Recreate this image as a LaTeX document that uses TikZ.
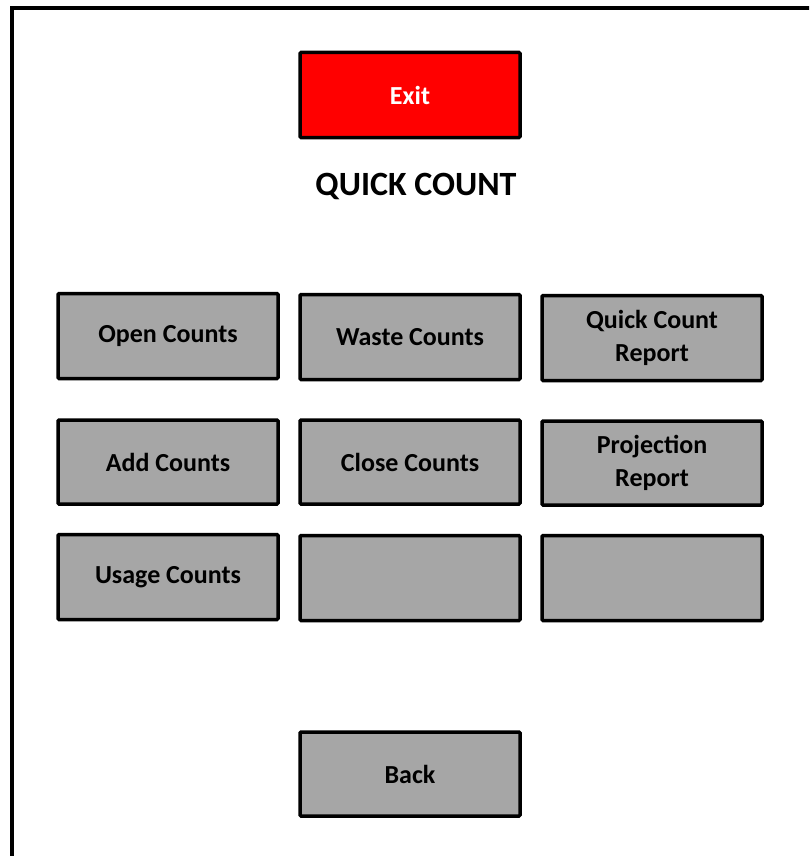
\documentclass[tikz,border=0pt]{standalone}
\usepackage{fontspec}
\setmainfont{Carlito}
\definecolor{btngray}{HTML}{A6A6A6}
\definecolor{btnred}{HTML}{FF0000}
\tikzset{
  btn/.style={draw=black, line width=3.5pt, fill=btngray, rounded corners=1pt,
    font=\bfseries\fontsize{26}{33}\selectfont, align=center, inner sep=0pt,
    minimum width=220pt, minimum height=85pt},
  exitbtn/.style={btn, fill=btnred, text=white},
  titletext/.style={font=\bfseries\fontsize{34}{40}\selectfont, inner sep=0pt},
}
\begin{document}
\begin{tikzpicture}[x=1pt,y=-1pt]
\useasboundingbox (0,0) rectangle (809,856);
\clip (0,0) rectangle (809,856);
\draw[line width=4pt] (12,8) rectangle (840,900);
\node[exitbtn] (exit) at (410,95) {Exit};
\node[titletext] (title) at (416,186) {QUICK COUNT};
\node[btn] (open) at (168,336) {Open Counts};
\node[btn] (waste) at (410,337) {Waste Counts};
\node[btn] (qcr) at (652,338) {Quick Count\\Report};
\node[btn, minimum height=84pt] (add) at (168,462) {Add Counts};
\node[btn, minimum height=84pt] (close) at (410,462) {Close Counts};
\node[btn, minimum height=84pt] (proj) at (652,463) {Projection\\Report};
\node[btn] (usage) at (168,577) {Usage Counts};
\node[btn] (empty1) at (410,578) {};
\node[btn] (empty2) at (652,578) {};
\node[btn, minimum height=84pt] (back) at (410,774) {Back};
\end{tikzpicture}
\end{document}
